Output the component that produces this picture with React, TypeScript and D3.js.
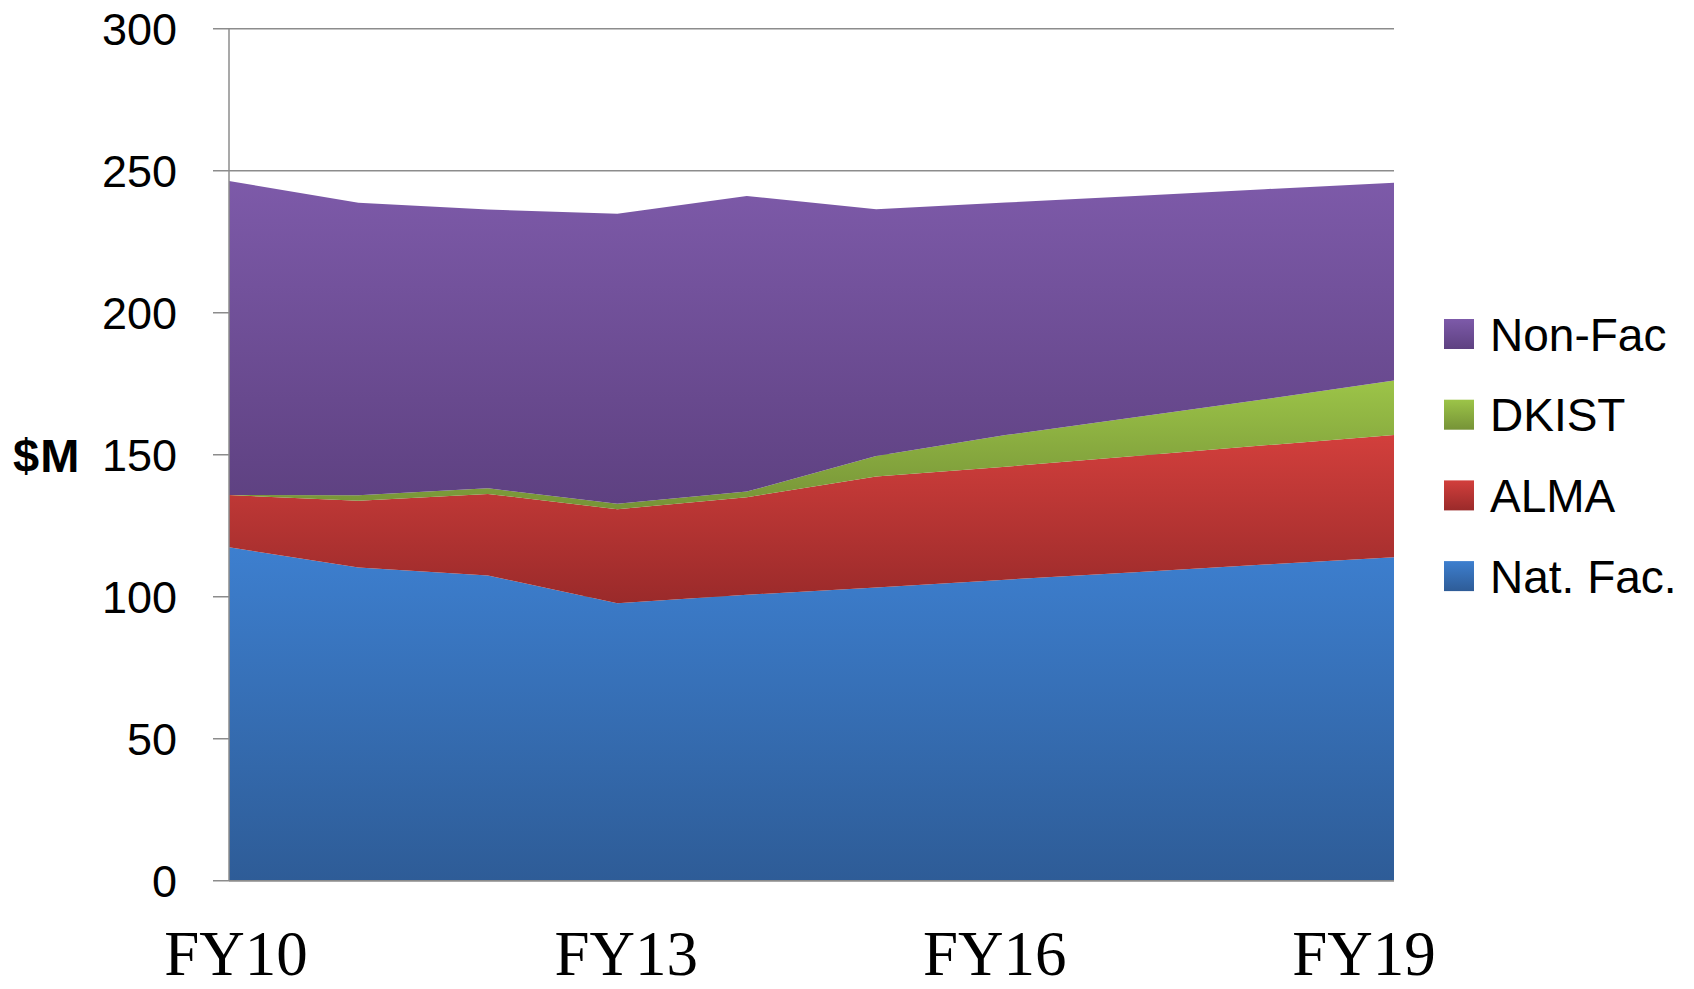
import React, { useEffect, useRef } from 'react';
import * as d3 from 'd3';

const years = ['FY10', 'FY11', 'FY12', 'FY13', 'FY14', 'FY15', 'FY16', 'FY17', 'FY18', 'FY19'];
const natFac = [117.4, 110.3, 107.5, 97.7, 100.7, 103.2, 106.0, 108.6, 111.3, 113.9];
const alma = [18.4, 23.5, 28.7, 33.1, 34.3, 39.1, 39.8, 40.9, 42.0, 43.0];
const dkist = [0, 1.9, 2.0, 1.9, 2.0, 7.2, 11.1, 13.7, 16.2, 19.2];
const nonFac = [110.6, 103.0, 98.1, 102.1, 104.1, 86.9, 81.9, 77.9, 74.0, 69.7];

const seriesNames = ['Nat. Fac.', 'ALMA', 'DKIST', 'Non-Fac'];
const yTicks = [0, 50, 100, 150, 200, 250, 300];
const xLabels = ['FY10', 'FY13', 'FY16', 'FY19'];

// gradient stops top -> bottom for each series
const colors: Record<string, [string, string]> = {
  'Nat. Fac.': ['#3d7fcf', '#2e5c97'],
  'ALMA': ['#d23f3c', '#9a2a2a'],
  'DKIST': ['#9cc448', '#769337'],
  'Non-Fac': ['#7d5aa9', '#5e4181'],
};

export default function App() {
  const svgRef = useRef<SVGSVGElement>(null);

  useEffect(() => {
    if (!svgRef.current) return;
    const svg = d3.select(svgRef.current);
    svg.selectAll('*').remove();

    const left = 229;
    const right = 1394;
    const top = 28.7;
    const bottom = 880.7;

    const x = d3.scalePoint<string>().domain(years).range([left, right]);
    const y = d3.scaleLinear().domain([0, 300]).range([bottom, top]);

    const rows = years.map((yr, i) => ({
      year: yr,
      'Nat. Fac.': natFac[i],
      'ALMA': alma[i],
      'DKIST': dkist[i],
      'Non-Fac': nonFac[i],
    }));
    const stack = d3.stack<any>().keys(seriesNames);
    const layers = stack(rows);

    const defs = svg.append('defs');
    seriesNames.forEach((name, i) => {
      const grad = defs.append('linearGradient')
        .attr('id', `grad${i}`)
        .attr('x1', 0).attr('y1', 0).attr('x2', 0).attr('y2', 1);
      grad.append('stop').attr('offset', '0%').attr('stop-color', colors[name][0]);
      grad.append('stop').attr('offset', '100%').attr('stop-color', colors[name][1]);
    });

    // gridlines behind areas
    svg.append('g')
      .selectAll('line')
      .data(yTicks)
      .enter()
      .append('line')
      .attr('x1', left - 16)
      .attr('x2', right)
      .attr('y1', d => y(d))
      .attr('y2', d => y(d))
      .attr('stroke', '#8c8c8c')
      .attr('stroke-width', 1.5);

    const area = d3.area<any>()
      .x(d => x(d.data.year) as number)
      .y0(d => y(d[0]))
      .y1(d => y(d[1]));

    svg.append('g')
      .selectAll('path')
      .data(layers)
      .enter()
      .append('path')
      .attr('d', area)
      .attr('fill', (d, i) => `url(#grad${i})`);

    // axis lines
    svg.append('line')
      .attr('x1', left).attr('x2', left)
      .attr('y1', top).attr('y2', bottom)
      .attr('stroke', '#8c8c8c').attr('stroke-width', 1.5);
    svg.append('line')
      .attr('x1', left).attr('x2', right)
      .attr('y1', bottom).attr('y2', bottom)
      .attr('stroke', '#8c8c8c').attr('stroke-width', 1.5);

    // y tick labels
    svg.append('g')
      .selectAll('text')
      .data(yTicks)
      .enter()
      .append('text')
      .attr('x', 177)
      .attr('y', d => y(d))
      .attr('dy', '0.36em')
      .attr('text-anchor', 'end')
      .attr('font-family', 'Liberation Sans, Arial, sans-serif')
      .attr('font-size', 45)
      .attr('fill', '#000')
      .text(d => d);

    svg.append('text')
      .attr('x', 13)
      .attr('y', y(150))
      .attr('dy', '0.36em')
      .attr('font-family', 'Liberation Sans, Arial, sans-serif')
      .attr('font-weight', 'bold')
      .attr('font-size', 47)
      .attr('letter-spacing', 1)
      .attr('fill', '#000')
      .text('$M');

    // x labels (slightly nudged as in original)
    const nudge = [7, 9, -11, -30];
    svg.append('g')
      .selectAll('text')
      .data(xLabels)
      .enter()
      .append('text')
      .attr('x', (d, i) => (x(d) as number) + nudge[i])
      .attr('y', 975)
      .attr('text-anchor', 'middle')
      .attr('font-family', 'Liberation Serif, Times New Roman, serif')
      .attr('font-size', 63)
      .attr('fill', '#000')
      .text(d => d);

    // legend
    const legendOrder = [...seriesNames].reverse();
    const lg = svg.append('g').attr('transform', 'translate(1444, 319)');
    legendOrder.forEach((name, i) => {
      const idx = seriesNames.indexOf(name);
      const row = lg.append('g').attr('transform', `translate(0, ${i * 80.7})`);
      row.append('rect')
        .attr('width', 30).attr('height', 30)
        .attr('fill', `url(#grad${idx})`);
      row.append('text')
        .attr('x', 46)
        .attr('y', 15)
        .attr('dy', '0.36em')
        .attr('font-family', 'Liberation Sans, Arial, sans-serif')
        .attr('font-size', 46)
        .attr('fill', '#000')
        .text(name);
    });
  }, []);

  return (
    <svg
      ref={svgRef}
      width={1694}
      height={989}
      style={{ position: 'absolute', left: 0, top: 0, background: '#fff' }}
    />
  );
}
